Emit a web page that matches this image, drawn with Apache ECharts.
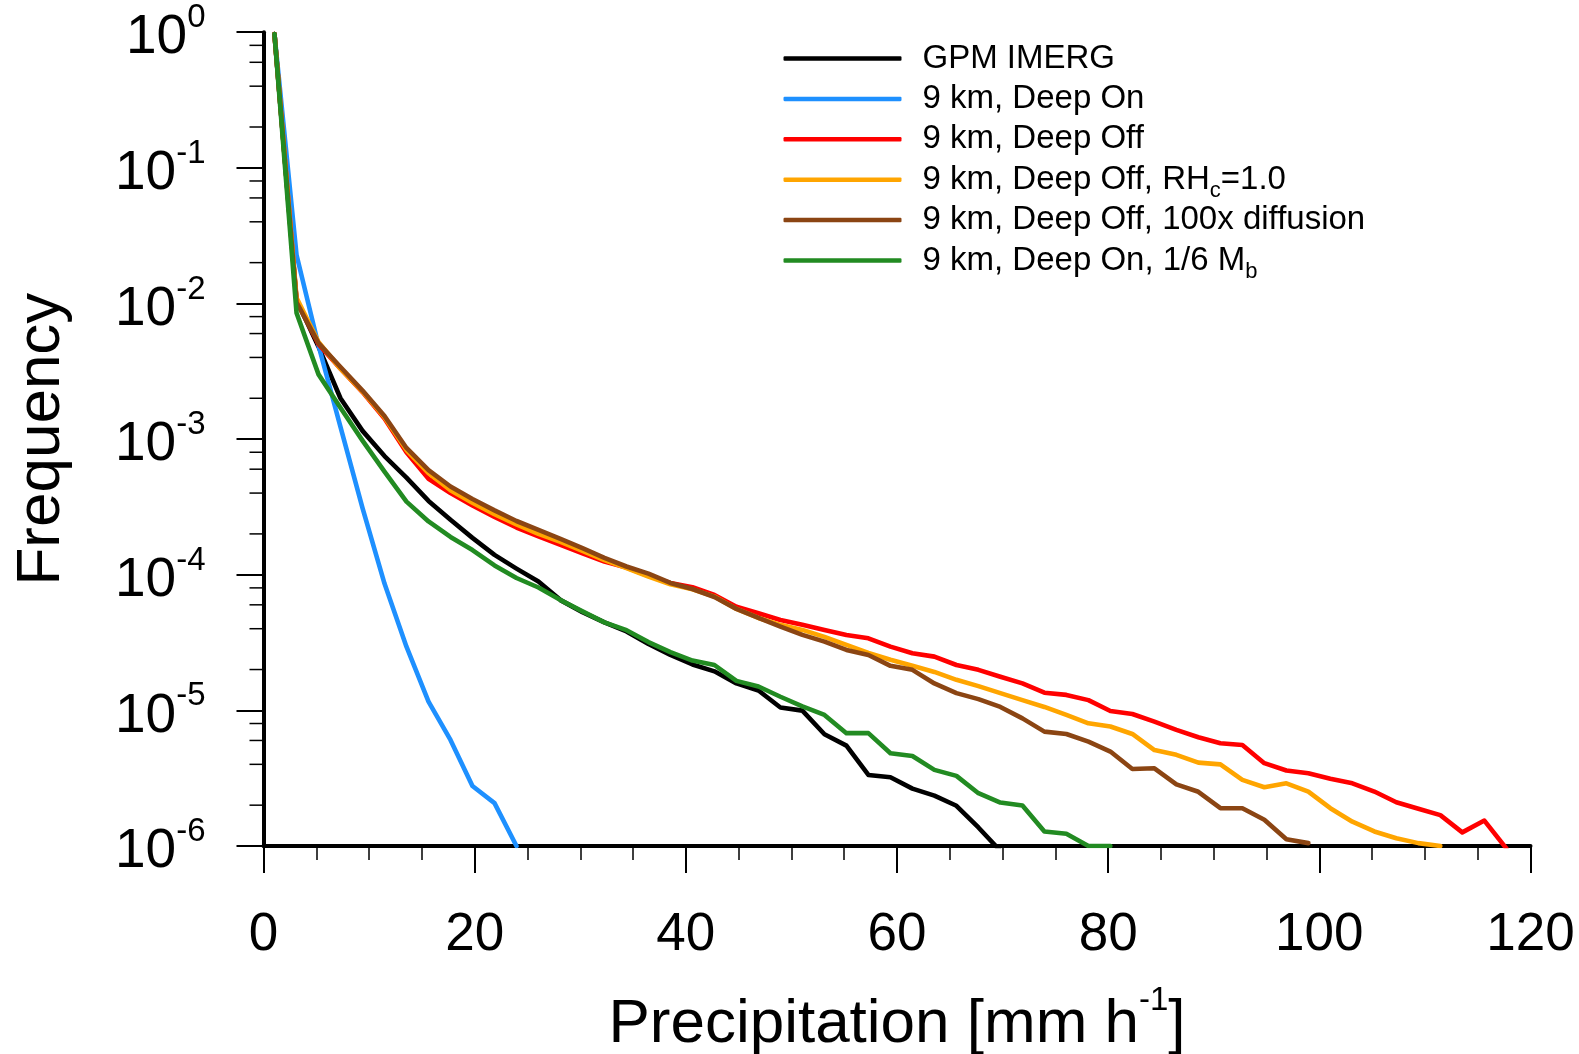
<!DOCTYPE html>
<html>
<head>
<meta charset="utf-8">
<script src="https://cdn.jsdelivr.net/npm/echarts@6/dist/echarts.min.js"></script>
<style>
html,body{margin:0;padding:0;background:#fff;}
#chart{width:1579px;height:1054px;}
</style>
</head>
<body>
<div id="chart"></div>
<script>
// Bin centres of precipitation rate [mm/h]
const bins = [1.04, 3.13, 5.21, 7.29, 9.38, 11.46, 13.54, 15.63, 17.71, 19.79, 21.88, 23.96, 26.04, 28.13, 30.21, 32.29, 34.38, 36.46, 38.54, 40.63, 42.71, 44.79, 46.88, 48.96, 51.04, 53.13, 55.21, 57.29, 59.38, 61.46, 63.54, 65.63, 67.71, 69.79, 71.88, 73.96, 76.04, 78.13, 80.21, 82.29, 84.38, 86.46, 88.54, 90.63, 92.71, 94.79, 96.88, 98.96, 101.04, 103.13, 105.21, 107.29, 109.38, 111.46, 113.54, 115.63, 117.71, 119.79];

const gpmImerg = [0.97, 0.0106, 0.0048, 0.0020, 0.00115, 7.5e-4, 5.2e-4, 3.5e-4, 2.54e-4, 1.87e-4, 1.40e-4, 1.11e-4, 8.9e-5, 6.5e-5, 5.3e-5, 4.45e-5, 3.82e-5, 3.09e-5, 2.56e-5, 2.18e-5, 1.94e-5, 1.58e-5, 1.40e-5, 1.05e-5, 9.96e-6, 6.67e-6, 5.5e-6, 3.34e-6, 3.21e-6, 2.65e-6, 2.35e-6, 1.98e-6, 1.37e-6, 9.2e-7];

const deepOn = [0.97, 0.0228, 0.0049, 0.00123, 3.1e-4, 8.6e-5, 2.95e-5, 1.16e-5, 6.05e-6, 2.77e-6, 2.07e-6, 1.0e-6];

const deepOff = [0.97, 0.0105, 0.0050, 0.0033, 0.00222, 0.00142, 8.0e-4, 5.1e-4, 4.0e-4, 3.24e-4, 2.67e-4, 2.23e-4, 1.92e-4, 1.66e-4, 1.44e-4, 1.25e-4, 1.13e-4, 9.8e-5, 8.7e-5, 8.1e-5, 7.1e-5, 5.8e-5, 5.2e-5, 4.64e-5, 4.27e-5, 3.92e-5, 3.6e-5, 3.4e-5, 2.95e-5, 2.64e-5, 2.49e-5, 2.16e-5, 1.99e-5, 1.77e-5, 1.58e-5, 1.35e-5, 1.30e-5, 1.19e-5, 9.9e-6, 9.4e-6, 8.26e-6, 7.18e-6, 6.34e-6, 5.73e-6, 5.56e-6, 4.08e-6, 3.6e-6, 3.44e-6, 3.13e-6, 2.9e-6, 2.52e-6, 2.1e-6, 1.88e-6, 1.69e-6, 1.26e-6, 1.54e-6, 9.6e-7];

const deepOffRH = [0.97, 0.011, 0.0052, 0.0033, 0.00224, 0.00145, 8.3e-4, 5.6e-4, 4.2e-4, 3.4e-4, 2.8e-4, 2.35e-4, 2.0e-4, 1.75e-4, 1.5e-4, 1.28e-4, 1.12e-4, 9.7e-5, 8.5e-5, 7.8e-5, 6.9e-5, 5.6e-5, 4.8e-5, 4.27e-5, 3.92e-5, 3.48e-5, 3.04e-5, 2.65e-5, 2.36e-5, 2.13e-5, 1.92e-5, 1.68e-5, 1.51e-5, 1.34e-5, 1.19e-5, 1.06e-5, 9.25e-6, 8.03e-6, 7.6e-6, 6.7e-6, 5.1e-6, 4.7e-6, 4.12e-6, 4.0e-6, 3.07e-6, 2.71e-6, 2.9e-6, 2.52e-6, 1.9e-6, 1.51e-6, 1.28e-6, 1.14e-6, 1.05e-6, 1.0e-6];

const deepOffDiff = [0.97, 0.0102, 0.0051, 0.0034, 0.00228, 0.00148, 8.6e-4, 5.9e-4, 4.47e-4, 3.62e-4, 2.98e-4, 2.49e-4, 2.14e-4, 1.84e-4, 1.57e-4, 1.33e-4, 1.15e-4, 1.02e-4, 8.7e-5, 7.85e-5, 6.85e-5, 5.6e-5, 4.8e-5, 4.14e-5, 3.6e-5, 3.21e-5, 2.79e-5, 2.56e-5, 2.13e-5, 1.99e-5, 1.58e-5, 1.34e-5, 1.21e-5, 1.06e-5, 8.73e-6, 6.97e-6, 6.7e-6, 5.88e-6, 4.97e-6, 3.7e-6, 3.74e-6, 2.85e-6, 2.51e-6, 1.9e-6, 1.9e-6, 1.56e-6, 1.12e-6, 1.05e-6];

const deepOnMb = [0.97, 0.0085, 0.0030, 0.0017, 9.75e-4, 5.75e-4, 3.46e-4, 2.47e-4, 1.9e-4, 1.52e-4, 1.17e-4, 9.46e-5, 8.05e-5, 6.5e-5, 5.37e-5, 4.45e-5, 3.9e-5, 3.19e-5, 2.69e-5, 2.33e-5, 2.16e-5, 1.65e-5, 1.50e-5, 1.26e-5, 1.07e-5, 9.25e-6, 6.79e-6, 6.79e-6, 4.83e-6, 4.61e-6, 3.64e-6, 3.29e-6, 2.45e-6, 2.09e-6, 1.99e-6, 1.28e-6, 1.23e-6, 1.0e-6, 1.0e-6];

const seriesNames = ['GPM IMERG', '9 km, Deep On', '9 km, Deep Off', '9 km, Deep Off, RHc=1.0', '9 km, Deep Off, 100x diffusion', '9 km, Deep On, 1/6 Mb'];
const legendLabels = ['GPM IMERG', '9 km, Deep On', '9 km, Deep Off', '9 km, Deep Off, RH{sub|c}=1.0', '9 km, Deep Off, 100x diffusion', '9 km, Deep On, 1/6 M{sub|b}'];
const seriesColors = ['#000000', '#1E90FF', '#FF0000', '#FFA500', '#8B4513', '#228B22'];
const seriesValues = [gpmImerg, deepOn, deepOff, deepOffRH, deepOffDiff, deepOnMb];

// minor tick positions on the log axis (2,4,6,8 x 10^n)
const minorTickValues = [2e-6, 4e-6, 6e-6, 8e-6, 2e-5, 4e-5, 6e-5, 8e-5, 2e-4, 4e-4, 6e-4, 8e-4, 2e-3, 4e-3, 6e-3, 8e-3, 2e-2, 4e-2, 6e-2, 8e-2, 0.2, 0.4, 0.6, 0.8];

const FONT = "'Liberation Sans', Arial, Helvetica, sans-serif";

const chart = echarts.init(document.getElementById('chart'), null, {renderer: 'canvas'});

const lineSeries = seriesValues.map((vals, i) => ({
  name: seriesNames[i],
  type: 'line',
  data: vals.map((v, j) => [bins[j], v]),
  symbol: 'none',
  showSymbol: false,
  clip: true,
  lineStyle: {color: seriesColors[i], width: 4.6, cap: 'round', join: 'round'},
  itemStyle: {color: seriesColors[i]},
  z: 2 + i
}));

const minorTickSeries = {
  type: 'custom',
  name: 'minorTicks',
  silent: true,
  clip: false,
  z: 10,
  data: minorTickValues.map(v => [0, v]),
  renderItem: function (params, api) {
    const p = api.coord([api.value(0), api.value(1)]);
    return {
      type: 'line',
      shape: {x1: p[0] - 14, y1: p[1], x2: p[0], y2: p[1]},
      style: {stroke: '#000', lineWidth: 1.5}
    };
  }
};

// one legend block per entry so every row keeps the same spacing
const legends = seriesNames.map((name, i) => ({
  orient: 'vertical',
  left: 783.5,
  top: 42 + 40.4 * i,
  padding: 0,
  itemWidth: 118,
  itemHeight: 4.5,
  icon: 'roundRect',
  selectedMode: false,
  data: [name],
  formatter: function (n) { return legendLabels[seriesNames.indexOf(n)]; },
  textStyle: {
    fontFamily: FONT, fontSize: 33, lineHeight: 33, color: '#000',
    padding: [0, 0, 0, 16],
    rich: {
      sub: {fontFamily: FONT, fontSize: 22, height: 10, lineHeight: 10, padding: [23, 0, 0, 0], color: '#000'}
    }
  }
}));

const option = {
  animation: false,
  backgroundColor: '#ffffff',
  grid: {left: 263.5, right: 48.5, top: 32.2, bottom: 208, containLabel: false, outerBoundsMode: 'none'},
  legend: legends,
  xAxis: {
    type: 'value',
    min: 0, max: 120, interval: 20,
    name: 'Precipitation [mm h{s|-1}]',
    nameLocation: 'middle',
    nameGap: 147,
    nameTextStyle: {
      fontFamily: FONT, fontSize: 62, lineHeight: 64, color: '#000',
      rich: {
        s: {fontFamily: FONT, fontSize: 33, height: 16, lineHeight: 16, padding: [0, 0, 48, 0], color: '#000'}
      }
    },
    axisLine: {onZero: false, lineStyle: {color: '#000', width: 4}},
    axisTick: {show: true, inside: false, length: 27, lineStyle: {color: '#000', width: 2}},
    minorTick: {show: true, splitNumber: 4, length: 14, lineStyle: {color: '#000', width: 1.5}},
    axisLabel: {fontFamily: FONT, fontSize: 53, color: '#000', margin: 63},
    splitLine: {show: false},
    minorSplitLine: {show: false}
  },
  yAxis: {
    type: 'log',
    logBase: 10,
    min: 1e-6, max: 1,
    name: 'Frequency',
    nameLocation: 'middle',
    nameGap: 191,
    nameTextStyle: {fontFamily: FONT, fontSize: 62, color: '#000'},
    axisLine: {onZero: false, lineStyle: {color: '#000', width: 4}},
    axisTick: {show: true, inside: false, length: 27, lineStyle: {color: '#000', width: 2}},
    axisLabel: {
      margin: 58,
      formatter: function (v) {
        const e = Math.round(Math.log10(v));
        return '{b|10}{s|' + (e < 0 ? '-' + (-e) : String(e)) + '}';
      },
      rich: {
        b: {fontFamily: FONT, fontSize: 55, height: 56, lineHeight: 56, padding: [12, 0, 0, 0], color: '#000'},
        s: {fontFamily: FONT, fontSize: 33, height: 20, lineHeight: 20, padding: [10, 0, 38, 0], color: '#000'}
      }
    },
    splitLine: {show: false}
  },
  series: lineSeries.concat([minorTickSeries])
};

chart.setOption(option);
</script>
</body>
</html>
